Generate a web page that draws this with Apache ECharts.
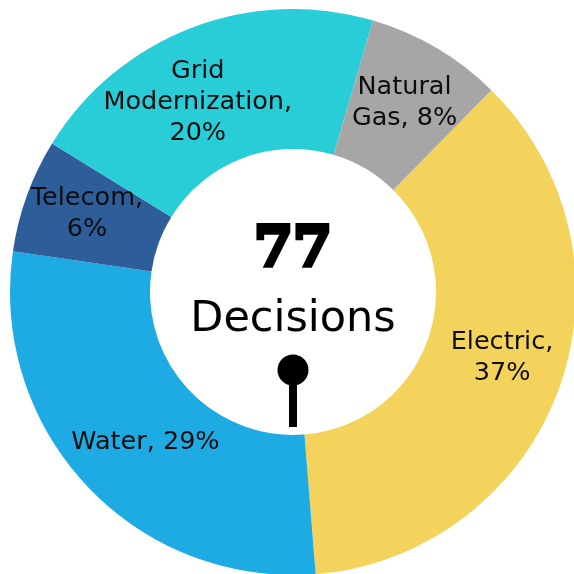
<!DOCTYPE html>
<html>
<head>
<meta charset="utf-8">
<script src="https://cdn.jsdelivr.net/npm/echarts@6/dist/echarts.min.js"></script>
<style>
  html, body { margin: 0; padding: 0; background: #fff; }
  #chart { width: 574px; height: 574px; }
</style>
</head>
<body>
<div id="chart"></div>
<script>
// Slice data (clockwise from top-right)
const sectors = ['Electric', 'Water', 'Telecom', 'Grid\nModernization', 'Natural\nGas'];
const counts = [28, 22, 5, 16, 6];
const shares = ['37%', '29%', '6%', '20%', '8%'];
const colors = ['#F3D35B', '#1EAAE2', '#2E5E9A', '#29CDD7', '#A6A6A6'];
const totalDecisions = 77;

// Small nudges so labels sit where the original put them
const labelOffsets = [[6, -8], [10, 3], [-3, -4], [-18, 12], [2, -3]];

// Label text for each slice
function sliceLabel(i) {
    if (i === 1) return sectors[i] + ', ' + shares[i];
    if (i === 4) return 'Natural\nGas, ' + shares[i];
    return sectors[i] + ',\n' + shares[i];
}

const chart = echarts.init(document.getElementById('chart'));

chart.setOption({
    animation: false,
    series: [{
        type: 'pie',
        center: [293, 292],
        radius: [143, 283],
        startAngle: 45.5,
        clockwise: true,
        avoidLabelOverlap: false,
        label: {
            show: true,
            position: 'inside',
            color: '#0d0d0d',
            fontFamily: 'DejaVu Sans',
            fontSize: 25.5,
            lineHeight: 31,
            formatter: p => sliceLabel(p.dataIndex)
        },
        labelLine: { show: false },
        data: counts.map((v, i) => ({
            value: v,
            name: sectors[i],
            itemStyle: { color: colors[i] },
            label: { offset: labelOffsets[i] }
        }))
    }],
    graphic: [
        {
            type: 'text',
            x: 293, y: 251,
            style: {
                text: String(totalDecisions),
                font: 'bold 56px "DejaVu Serif"',
                fill: '#000',
                stroke: '#000',
                lineWidth: 4,
                align: 'center',
                verticalAlign: 'middle'
            }
        },
        {
            type: 'text',
            x: 293, y: 320,
            style: {
                text: 'Decisions',
                font: '43px "DejaVu Sans"',
                fill: '#000',
                align: 'center',
                verticalAlign: 'middle'
            }
        },
        {
            type: 'rect',
            shape: { x: 289, y: 370, width: 8, height: 57 },
            style: { fill: '#000' }
        },
        {
            type: 'circle',
            shape: { cx: 293, cy: 370, r: 15.5 },
            style: { fill: '#000' }
        }
    ]
});
</script>
</body>
</html>
